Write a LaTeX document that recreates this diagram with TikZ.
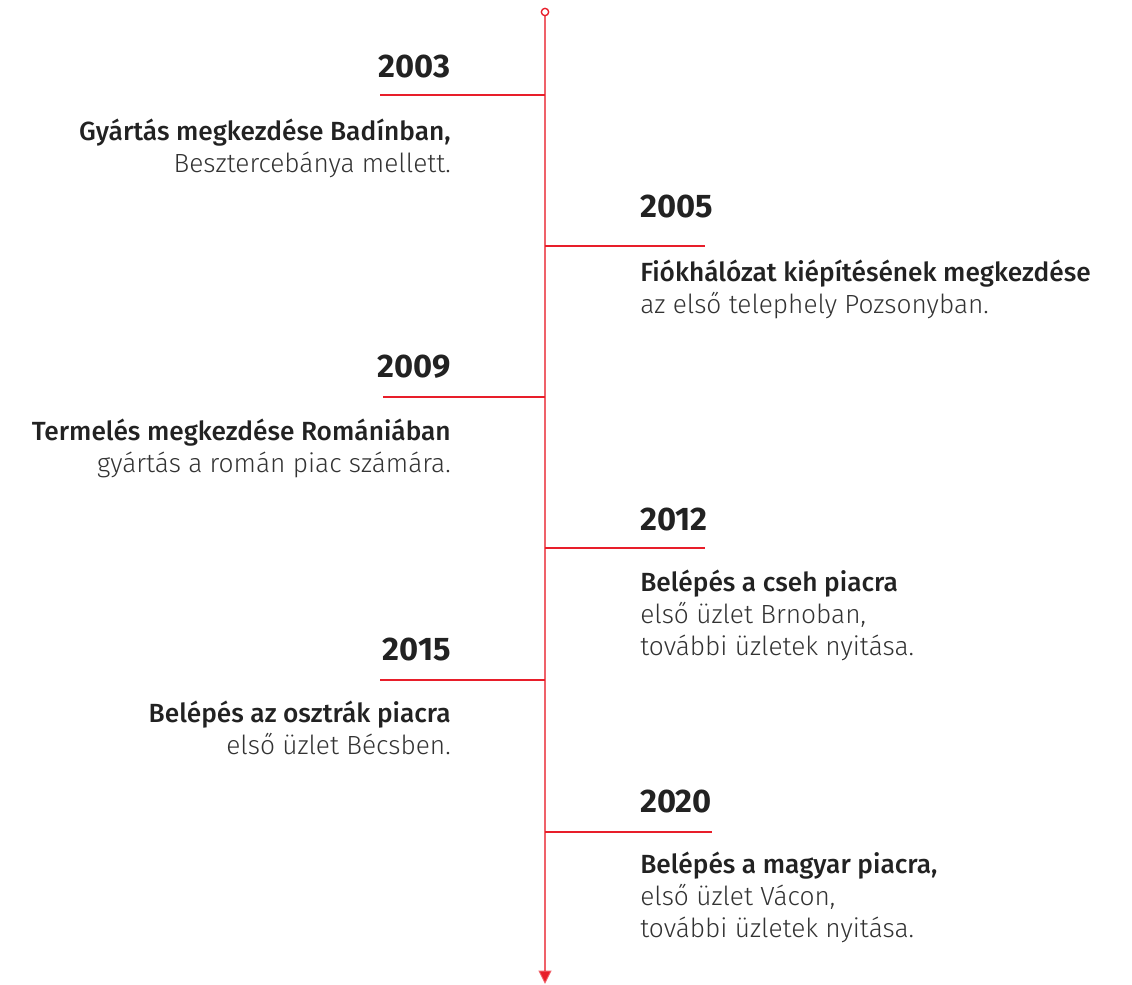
\documentclass[tikz,border=0pt]{standalone}
\usepackage{fontspec}
\IfFontExistsTF{Fira Sans Light}{%
  \setmainfont{Fira Sans}[UprightFont=* Light,BoldFont=* Medium]
  \newfontfamily\yearfont{Fira Sans}[UprightFont=* Bold]
}{%
  \setmainfont{Liberation Sans}
  \newfontfamily\yearfont{Liberation Sans}[UprightFont=* Bold]
}
\usetikzlibrary{arrows.meta,positioning}
\definecolor{tlred}{RGB}{232,30,42}
\definecolor{tldark}{RGB}{34,34,34}
\definecolor{tltext}{RGB}{51,51,51}
\tikzset{
  spine/.style={tlred,draw opacity=0.7,line width=1.5pt,-{Triangle[width=9.5pt,length=10pt]}},
  tick/.style={tlred,line width=1.3pt},
  year/.style={font=\yearfont\fontsize{24.5pt}{28pt}\selectfont,text=tldark,inner sep=0pt},
  head/.style={font=\bfseries\fontsize{19.7pt}{24pt}\selectfont,text=tldark,inner sep=0pt},
  body/.style={font=\fontsize{19.7pt}{24pt}\selectfont,text=tltext,inner sep=0pt}
}
\begin{document}
\begin{tikzpicture}[x=0.75pt,y=-0.75pt]
\useasboundingbox (0,0) rectangle (1132,985);
% spine
\node[circle,draw=tlred,fill=white,line width=1pt,inner sep=0pt,minimum size=5.5pt] (top) at (545,12) {};
\coordinate (bot) at (545,984);
\draw[spine] (top.south) -- (bot);
% left events
\foreach \yr/\ty/\tk/\ex in {2003/77/95/380,2009/377/397/383,2015/660/680/380}{
  \coordinate (s\yr) at (545,\tk);
  \coordinate (e\yr) at (\ex,\tk);
  \draw[tick] (s\yr) -- (e\yr);
  \node[year,anchor=base east] (y\yr) at (451,\ty) {\yr};
}
% right events
\foreach \yr/\ty/\tk/\ex in {2005/217/246/705,2012/530/548/705,2020/812/832/712}{
  \coordinate (s\yr) at (545,\tk);
  \coordinate (e\yr) at (\ex,\tk);
  \draw[tick] (s\yr) -- (e\yr);
  \node[year,anchor=base west] (y\yr) at (640,\ty) {\yr};
}
% texts
\node[head,anchor=base east] (h2003) at (451,140) {Gyártás megkezdése Badínban,};
\node[body,anchor=base east] (b2003) at (451,172) {Besztercebánya mellett.};
\node[head,anchor=base west] (h2005) at (640,281) {Fiókhálózat kiépítésének megkezdése};
\node[body,anchor=base west] (b2005) at (640,313) {az első telephely Pozsonyban.};
\node[head,anchor=base east] (h2009) at (451,440) {Termelés megkezdése Romániában};
\node[body,anchor=base east] (b2009) at (451,472) {gyártás a román piac számára.};
\node[head,anchor=base west] (h2012) at (640,591) {Belépés a cseh piacra};
\node[body,anchor=base west] (b2012) at (640,623) {első üzlet Brnoban,};
\node[body,anchor=base west] (c2012) at (640,655) {további üzletek nyitása.};
\node[head,anchor=base east] (h2015) at (451,722) {Belépés az osztrák piacra};
\node[body,anchor=base east] (b2015) at (451,754) {első üzlet Bécsben.};
\node[head,anchor=base west] (h2020) at (640,873) {Belépés a magyar piacra,};
\node[body,anchor=base west] (b2020) at (640,905) {első üzlet Vácon,};
\node[body,anchor=base west] (c2020) at (640,937) {további üzletek nyitása.};
\end{tikzpicture}
\end{document}
